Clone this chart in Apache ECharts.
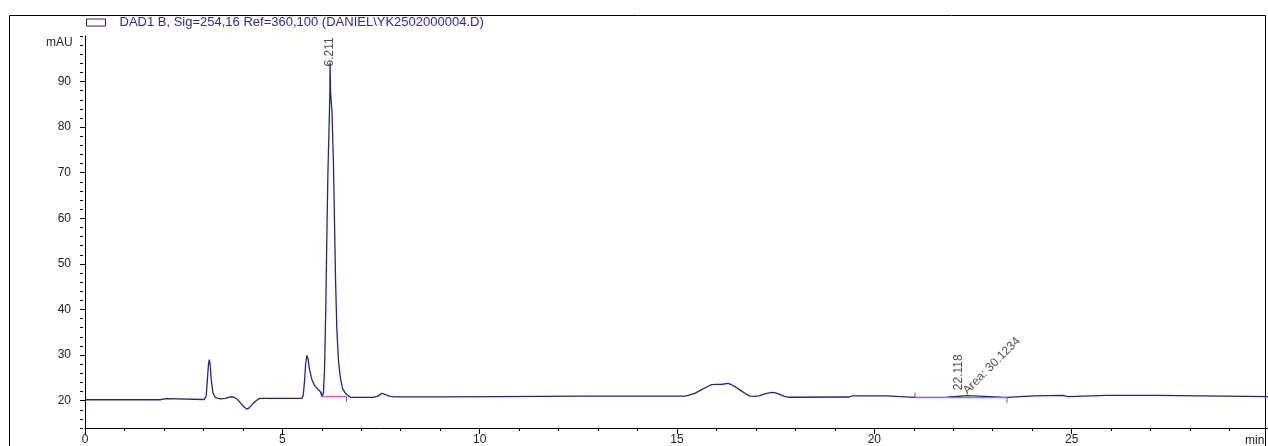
<!DOCTYPE html>
<html>
<head>
    <meta charset="utf-8">
    <title>DAD1 B chromatogram</title>
    <style>
        html, body { margin: 0; padding: 0; background: #fff; }
        #chart1 { width: 1268px; height: 446px; }
    </style>
</head>
<body>
    <div id="chart1"></div>
    <script src="https://cdn.jsdelivr.net/npm/echarts@6.0.0/dist/echarts.min.js"></script>
    <script type="text/javascript">
        // signal trace: time (min) / absorbance (mAU)
        var traceTime = [
            0, 1.05, 1.09, 1.12, 1.15, 1.18, 1.21, 1.25, 1.55, 1.58, 1.62, 1.66, 1.7, 1.75, 1.8, 1.9, 1.92, 2.05, 2.08,
            3.02, 3.07, 3.1, 3.13, 3.15, 3.17, 3.2, 3.24, 3.3, 3.42, 3.55, 3.68, 3.76, 3.86, 3.95, 4.03, 4.1, 4.16, 4.25, 4.35, 4.43,
            4.7, 4.95, 4.98, 5.02, 5.5, 5.53, 5.56, 5.59, 5.62, 5.65, 5.69, 5.75, 5.82, 5.9, 5.96, 6.0, 6.04,
            6.07, 6.1, 6.13, 6.155, 6.19, 6.205, 6.211, 6.22, 6.26, 6.295, 6.32, 6.35, 6.38, 6.42, 6.47, 6.53, 6.6, 6.68,
            6.75, 7.3, 7.42, 7.52, 7.6, 7.7, 7.85, 9.0, 9.03, 9.07, 10.5, 12.6, 12.63, 12.67,
            15.22, 15.3, 15.45, 15.6, 15.75, 15.88, 16.0, 16.15, 16.29, 16.38, 16.5, 16.62, 16.74, 16.85, 16.98,
            17.1, 17.22, 17.4, 17.5, 17.62, 17.72, 17.82, 19.35, 19.39, 19.45, 20.3, 20.35,
            21.03, 21.84, 21.87, 22.35, 22.38, 23.36, 23.4, 24.05, 24.07, 24.1, 24.78, 24.8, 24.83, 24.9, 24.93,
            25.9, 25.93, 25.96, 26.0, 26.03, 26.26, 26.28, 26.31, 27.16, 27.2, 30
        ];
        var traceMAU = [
            20.2, 20.2, 20.45, 20.2, 20.45, 20.2, 20.4, 20.2, 20.2, 20.45, 20.2, 20.45, 20.2, 20.4, 20.2, 20.2, 20.45, 20.45, 20.2,
            20.25, 21.0, 24.5, 28.2, 29.0, 28.0, 24.5, 21.8, 20.7, 20.4, 20.5, 20.85, 20.8, 20.3, 19.4, 18.6, 18.15, 18.4, 19.3, 20.1, 20.5,
            20.5, 20.5, 20.7, 20.5, 20.5, 21.2, 24.0, 28.0, 29.9, 29.2, 26.8, 24.6, 23.3, 22.5, 22.0, 21.0, 21.5,
            27.0, 40.0, 57.0, 70.0, 82.0, 88.0, 94.2, 88.0, 83.0, 72.0, 60.0, 46.0, 36.0, 29.0, 25.0, 22.6, 21.6, 21.0,
            20.7, 20.7, 21.0, 21.6, 21.4, 21.0, 20.85, 20.85, 21.05, 20.85, 20.9, 21.0, 21.3, 21.0,
            21.0, 21.2, 21.6, 22.3, 23.0, 23.5, 23.55, 23.6, 23.8, 23.5, 22.9, 22.2, 21.5, 21.0, 20.95,
            21.1, 21.5, 21.8, 21.7, 21.3, 20.95, 20.75, 20.8, 21.05, 21.05, 21.05, 20.7,
            20.7, 20.75, 21.1, 21.1, 20.75, 20.7, 21.05, 21.05, 20.85, 21.05, 21.15, 20.9, 21.15, 20.9, 21.15,
            21.15, 20.95, 21.15, 20.95, 21.15, 21.15, 20.95, 21.15, 21.15, 20.9, 20.9
        ];

        // integrated peaks
        var peakTime = [6.211, 22.118];
        var peakHeight = [94.2, 21.1];
        var peakArea = ['', 'Area: 30.1234'];

        // integration baselines (pink)
        var baseStart = [6.0, 21.03];
        var baseEnd = [6.63, 23.36];
        var baseLevel = [20.88, 20.66];

        // axis ticks
        var xMax = 30;
        var xMajor = 5;
        var yMin = 14;
        var yMax = 100;
        var yLabels = [20, 30, 40, 50, 60, 70, 80, 90];
        var yMinor = [14, 16, 18, 22, 24, 26, 28, 32, 34, 36, 38, 42, 44, 46, 48, 52, 54, 56, 58,
            62, 64, 66, 68, 72, 74, 76, 78, 82, 84, 86, 88, 92, 94, 96, 98, 100];

        var signalName = 'DAD1 B, Sig=254,16 Ref=360,100 (DANIEL\\YK2502000004.D)';
        var fontName = '"Liberation Sans", Arial, sans-serif';
        var traceColor = '#262680';
        var pinkColor = '#e04ee0';

        var myChart = echarts.init(document.getElementById('chart1'));

        var traceData = traceTime.map(function (t, i) { return [t, traceMAU[i]]; });

        var series = [{
            name: signalName,
            type: 'line',
            data: traceData,
            showSymbol: false,
            symbol: 'none',
            lineStyle: { color: traceColor, width: 1.3 },
            itemStyle: { color: traceColor },
            z: 3
        }];

        // pink baselines + start/end markers
        var markData = [];
        baseStart.forEach(function (s, i) {
            series.push({
                type: 'line',
                data: [[s, baseLevel[i]], [baseEnd[i], baseLevel[i]]],
                symbol: 'none',
                lineStyle: { color: pinkColor, width: 1.3 },
                z: 4
            });
            markData.push({ value: [s, baseLevel[i]], symbolOffset: [0, -2.5] });
            markData.push({ value: [baseEnd[i], baseLevel[i]], symbolOffset: [0, 2.5] });
        });
        series.push({
            type: 'scatter',
            data: markData,
            symbol: 'rect',
            symbolSize: [1, 5],
            itemStyle: { color: '#333366' },
            z: 5
        });

        // peak labels
        var labelData = [];
        peakTime.forEach(function (t, i) {
            labelData.push({
                value: [t, peakHeight[i]],
                label: {
                    show: true,
                    formatter: String(t),
                    rotate: 90,
                    align: 'left',
                    verticalAlign: 'middle',
                    offset: i === 0 ? [-4, 0] : [5.5, 1]
                }
            });
            if (peakArea[i]) {
                labelData.push({
                    value: [t, peakHeight[i]],
                    label: {
                        show: true,
                        formatter: peakArea[i],
                        rotate: 45,
                        align: 'left',
                        verticalAlign: 'middle',
                        offset: [7.3, 2.8]
                    }
                });
            }
        });
        series.push({
            type: 'scatter',
            data: labelData,
            symbolSize: 0,
            label: {
                show: true,
                position: 'inside',
                color: '#222',
                fontSize: 12,
                fontFamily: fontName
            },
            z: 6
        });

        var option = {
            animation: false,
            backgroundColor: '#fff',
            grid: { left: 85, right: -1, top: 36, bottom: 18, outerBoundsMode: 'none' },
            legend: {
                left: 86,
                top: 16,
                padding: 0,
                icon: 'rect',
                itemWidth: 19,
                itemHeight: 7,
                selectedMode: false,
                itemStyle: { color: 'transparent', borderColor: traceColor, borderWidth: 1 },
                textStyle: { color: '#2a2aa8', fontSize: 13, fontFamily: fontName, padding: [0, 0, 0, 9] },
                data: [signalName]
            },
            xAxis: {
                type: 'value',
                min: 0,
                max: xMax,
                interval: xMajor,
                position: 'bottom',
                axisLine: { lineStyle: { color: '#000', width: 1 } },
                axisTick: { length: 6, lineStyle: { color: '#000' } },
                minorTick: { show: true, splitNumber: 5, length: 3, lineStyle: { color: '#000' } },
                axisLabel: { margin: 6, color: '#222', fontSize: 12, fontFamily: fontName, showMaxLabel: false },
                splitLine: { show: false }
            },
            yAxis: [{
                type: 'value',
                min: yMin,
                max: yMax,
                position: 'left',
                offset: 2,
                axisLine: { show: true, lineStyle: { color: '#000', width: 1 } },
                axisTick: { show: true, customValues: yLabels, length: 5, lineStyle: { color: '#000' } },
                axisLabel: { customValues: yLabels, margin: 12, color: '#222', fontSize: 12, fontFamily: fontName },
                splitLine: { show: false }
            }, {
                type: 'value',
                min: yMin,
                max: yMax,
                position: 'left',
                offset: 2,
                axisLine: { show: false },
                axisTick: { show: true, customValues: yMinor, length: 3, lineStyle: { color: '#000' } },
                axisLabel: { show: false },
                splitLine: { show: false }
            }],
            graphic: [
                // outer frame
                { type: 'rect', shape: { x: 9.5, y: 15.5, width: 1256, height: 440 }, style: { fill: 'none', stroke: '#000', lineWidth: 1 }, silent: true },
                { type: 'text', left: 46, top: 37, style: { text: 'mAU', fill: '#222', font: '12px ' + fontName } },
                { type: 'text', left: 1245, top: 435, style: { text: 'min', fill: '#222', font: '12px ' + fontName } }
            ],
            series: series
        };
        myChart.setOption(option);
    </script>
</body>
</html>
